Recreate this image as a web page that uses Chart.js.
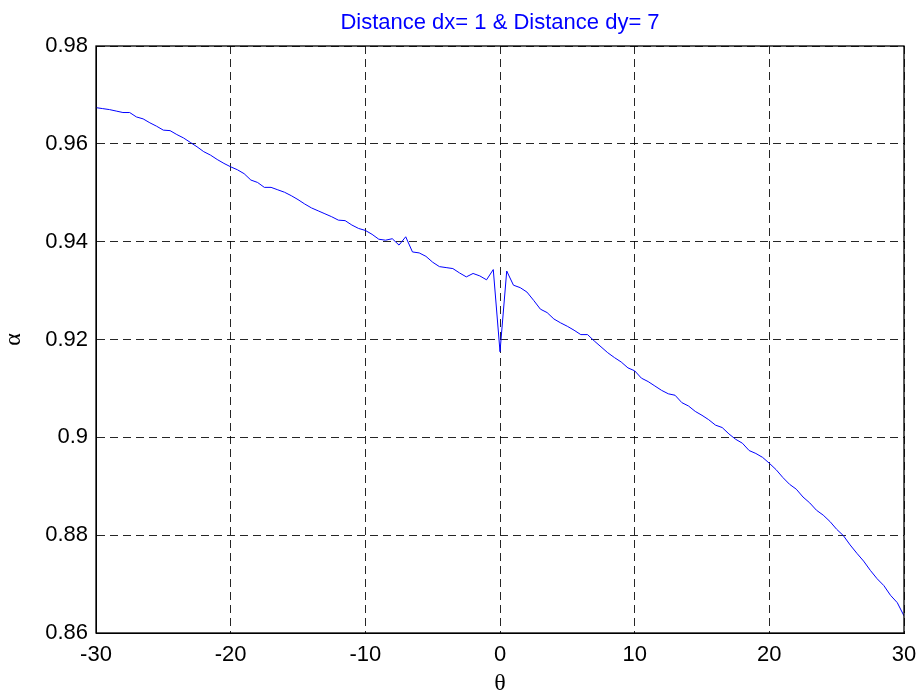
<!DOCTYPE html>
<html>
<head>
<meta charset="utf-8">
<script src="https://cdn.jsdelivr.net/npm/chart.js@4/dist/chart.umd.min.js"></script>
<style>
  html, body { margin: 0; padding: 0; background: #fff; }
  #wrap { width: 922px; height: 693px; }
</style>
</head>
<body>
<div id="wrap"><canvas id="chart" width="922" height="693"></canvas></div>
<script>
/* angulos theta, paso de 0.5 */
const thetaValues = [
  -30, -29.5, -29, -28.5, -28, -27.5, -27, -26.5, -26, -25.5,
  -25, -24.5, -24, -23.5, -23, -22.5, -22, -21.5, -21, -20.5,
  -20, -19.5, -19, -18.5, -18, -17.5, -17, -16.5, -16, -15.5,
  -15, -14.5, -14, -13.5, -13, -12.5, -12, -11.5, -11, -10.5,
  -10, -9.5, -9, -8.5, -8, -7.5, -7, -6.5, -6, -5.5,
  -5, -4.5, -4, -3.5, -3, -2.5, -2, -1.5, -1, -0.5,
  0, 0.5, 1, 1.5, 2, 2.5, 3, 3.5, 4, 4.5,
  5, 5.5, 6, 6.5, 7, 7.5, 8, 8.5, 9, 9.5,
  10, 10.5, 11, 11.5, 12, 12.5, 13, 13.5, 14, 14.5,
  15, 15.5, 16, 16.5, 17, 17.5, 18, 18.5, 19, 19.5,
  20, 20.5, 21, 21.5, 22, 22.5, 23, 23.5, 24, 24.5,
  25, 25.5, 26, 26.5, 27, 27.5, 28, 28.5, 29, 29.5, 30
];

/* valores de alpha */
const alphaValues = [
  0.9674, 0.9672, 0.9670, 0.9667, 0.9664, 0.9664, 0.9655, 0.9651, 0.9643, 0.9636,
  0.9628, 0.9627, 0.9619, 0.9612, 0.9603, 0.9594, 0.9584, 0.9577, 0.9568, 0.9560,
  0.9553, 0.9547, 0.9539, 0.9526, 0.9521, 0.9511, 0.9511, 0.9506, 0.9501, 0.9494,
  0.9486, 0.9477, 0.9469, 0.9463, 0.9457, 0.9451, 0.9444, 0.9443, 0.9434, 0.9427,
  0.9423, 0.9415, 0.9405, 0.9403, 0.9406, 0.9393, 0.9410, 0.9379, 0.9377, 0.9370,
  0.9358, 0.9349, 0.9347, 0.9345, 0.9336, 0.9328, 0.9335, 0.9330, 0.9322, 0.9343,
  0.9175, 0.9340, 0.9311, 0.9306, 0.9297, 0.9280, 0.9262, 0.9255, 0.9242, 0.9234,
  0.9227, 0.9219, 0.9210, 0.9210, 0.9197, 0.9185, 0.9173, 0.9163, 0.9154, 0.9142,
  0.9136, 0.9121, 0.9114, 0.9105, 0.9096, 0.9089, 0.9086, 0.9071, 0.9064, 0.9053,
  0.9045, 0.9036, 0.9025, 0.9020, 0.9007, 0.8996, 0.8988, 0.8973, 0.8967, 0.8959,
  0.8947, 0.8934, 0.8918, 0.8904, 0.8894, 0.8878, 0.8866, 0.8851, 0.8841, 0.8828,
  0.8812, 0.8799, 0.8780, 0.8763, 0.8747, 0.8728, 0.8711, 0.8697, 0.8677, 0.8662, 0.8635
];

/* ejes */
const xTicks = [-30, -20, -10, 0, 10, 20, 30];
const yTicks = [0.86, 0.88, 0.9, 0.92, 0.94, 0.96, 0.98];

const titleText = 'Distance dx= 1 & Distance dy= 7';
const xTitle = '\u03b8';
const yTitle = '\u03b1';

const sansFont = "'Liberation Sans', Arial, Helvetica, sans-serif";
const serifFont = "'Liberation Serif', 'Times New Roman', serif";

/* marco negro completo como en matlab */
const boxPlugin = {
  id: 'boxPlugin',
  afterDraw(chart) {
    const a = chart.chartArea;
    const ctx = chart.ctx;
    ctx.save();
    ctx.strokeStyle = '#000';
    ctx.lineWidth = 1.3;
    ctx.setLineDash([]);
    ctx.strokeRect(a.left, a.top, a.right - a.left, a.bottom - a.top);
    ctx.restore();
  }
};

const ctx = document.getElementById('chart').getContext('2d');

const chart = new Chart(ctx, {
  type: 'line',
  data: {
    datasets: [{
      data: thetaValues.map((t, i) => ({ x: t, y: alphaValues[i] })),
      borderColor: '#0000ff',
      borderWidth: 1,
      pointRadius: 0,
      tension: 0,
      fill: false
    }]
  },
  options: {
    responsive: false,
    animation: false,
    layout: { padding: { top: 0, right: 18, bottom: 0, left: 0 } },
    plugins: {
      legend: { display: false },
      tooltip: { enabled: false },
      title: {
        display: true,
        text: titleText,
        color: '#0000ff',
        fullSize: false,
        font: { family: sansFont, size: 22, weight: 'normal' },
        padding: { top: 10, bottom: 9.6 }
      }
    },
    scales: {
      x: {
        type: 'linear',
        min: -30,
        max: 30,
        afterBuildTicks: s => { s.ticks = xTicks.map(v => ({ value: v })); },
        afterFit: s => { s.height = 60; s.paddingRight = 12; s.paddingLeft = 0; },
        ticks: {
          color: '#000',
          padding: 9,
          maxRotation: 0,
          font: { family: sansFont, size: 22 },
          callback: v => String(v)
        },
        grid: { color: 'rgba(0,0,0,0.85)', lineWidth: 1, drawTicks: false },
        border: { display: true, color: '#000', dash: [8, 5] },
        title: {
          display: true,
          text: xTitle,
          color: '#000',
          font: { family: serifFont, size: 24, lineHeight: 0.8 },
          padding: { top: 0, bottom: 0 }
        }
      },
      y: {
        type: 'linear',
        min: 0.86,
        max: 0.98,
        afterBuildTicks: s => { s.ticks = yTicks.map(v => ({ value: v })); },
        afterFit: s => { s.width = 96; },
        ticks: {
          color: '#000',
          padding: 8,
          font: { family: sansFont, size: 22 },
          callback: v => String(Number(v.toFixed(2)))
        },
        grid: { color: 'rgba(0,0,0,0.85)', lineWidth: 1, drawTicks: false },
        border: { display: true, color: '#000', dash: [8, 5] },
        title: {
          display: true,
          text: yTitle,
          color: '#000',
          font: { family: serifFont, size: 24, lineHeight: 0.9 },
          padding: { top: 3, bottom: 0 }
        }
      }
    }
  },
  plugins: [boxPlugin]
});
</script>
</body>
</html>
